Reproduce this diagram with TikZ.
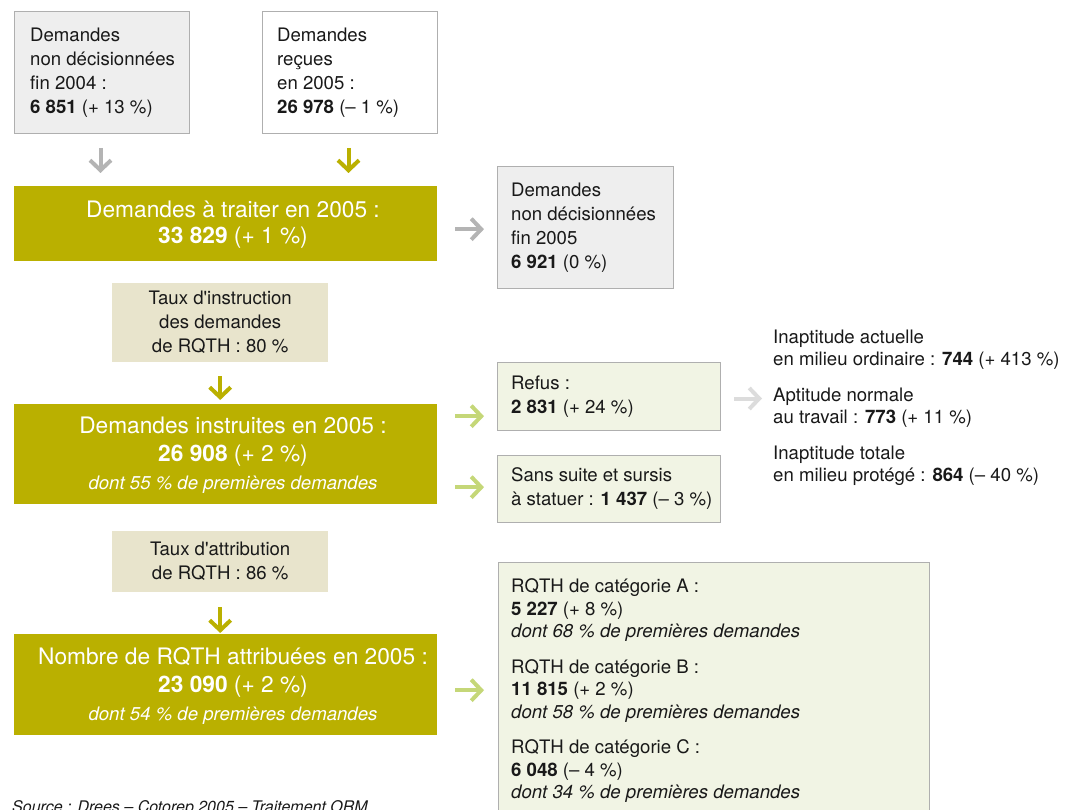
\documentclass[tikz,border=0pt]{standalone}
\usepackage{fontspec}
\setmainfont{TeX Gyre Heros}
\usetikzlibrary{arrows.meta}
\definecolor{oliveC}{RGB}{186,176,0}
\definecolor{beigeC}{RGB}{232,228,204}
\definecolor{lgreenC}{RGB}{241,244,228}
\definecolor{greenA}{RGB}{197,215,120}
\definecolor{grayA}{RGB}{180,180,180}
\definecolor{lgrayA}{RGB}{220,220,220}
\definecolor{borderC}{RGB}{175,175,175}
\definecolor{grayF}{RGB}{238,238,238}
\definecolor{txtC}{RGB}{25,25,25}
\begin{document}
\begin{tikzpicture}[x=1pt,y=-1pt,
  boxbase/.style={draw=borderC, line width=1pt, anchor=north west, inner sep=0pt},
  graybox/.style={boxbase, fill=grayF},
  whitebox/.style={boxbase, fill=white},
  greenbox/.style={boxbase, fill=lgreenC},
  tauxbox/.style={fill=beigeC, anchor=north west, inner sep=0pt},
  bigbox/.style={fill=oliveC, anchor=north west, inner sep=0pt},
  txtL/.style={inner sep=0pt, anchor=west, align=left, text=txtC, font=\fontsize{18.6}{24}\selectfont},
  txtC/.style={inner sep=0pt, align=center, text=txtC, font=\fontsize{18.6}{24}\selectfont},
  bigtxt/.style={inner sep=0pt, align=center, text=white, font=\fontsize{22.7}{28}\selectfont},
  arr/.style={line width=4pt, -{Straight Barb[length=10pt,width=21pt]}},
  arrGray/.style={arr, draw=grayA},
  arrLGray/.style={arr, draw=lgrayA},
  arrOlive/.style={arr, draw=oliveC},
  arrGreen/.style={arr, draw=greenA}]
\useasboundingbox (0,0) rectangle (1071,810);
\clip (0,0) rectangle (1071,810);

% top boxes
\node[graybox, minimum width=175, minimum height=122] (b1) at (14,11) {};
\node[txtL] (b1t) at ([xshift=16]b1.west) {Demandes\\non décisionnées\\fin 2004 :\\\textbf{6 851} (+ 13 \%)};
\node[whitebox, minimum width=175, minimum height=122] (b2) at (262,11) {};
\node[txtL] (b2t) at ([xshift=15]b2.west) {Demandes\\reçues\\en 2005 :\\\textbf{26 978} (– 1 \%)};

% big box 1
\node[bigbox, minimum width=423, minimum height=75] (big1) at (14,186) {};
\node[bigtxt, font=\fontsize{22.7}{26}\selectfont] (big1t) at (233,225) {Demandes à traiter en 2005 :\\\textbf{33 829} (+ 1 \%)};

% box 3
\node[graybox, minimum width=176, minimum height=122] (b3) at (497,166) {};
\node[txtL] (b3t) at ([xshift=14]b3.west) {Demandes\\non décisionnées\\fin 2005\\\textbf{6 921} (0 \%)};

% taux 1
\node[tauxbox, minimum width=216, minimum height=79] (t1) at (112,283) {};
\node[txtC] (t1t) at (t1.center) {Taux d\textquotesingle instruction\\des demandes\\de RQTH : 80 \%};

% big box 2
\node[bigbox, minimum width=423, minimum height=100] (big2) at (14,404) {};
\node[bigtxt] (big2t) at (233,455) {Demandes instruites en 2005 :\\\textbf{26 908} (+ 2 \%)\\{\fontsize{18.6}{28}\selectfont\itshape dont 55 \% de premières demandes}};

% refus / sans suite
\node[greenbox, minimum width=223, minimum height=68] (refus) at (497,362) {};
\node[txtL] (refust) at ([xshift=14]refus.west) {Refus :\\\textbf{2 831} (+ 24 \%)};
\node[greenbox, minimum width=223, minimum height=67] (sans) at (497,455) {};
\node[txtL] (sanst) at ([xshift=14]sans.west) {Sans suite et sursis\\à statuer : \textbf{1 437} (– 3 \%)};

% right text
\node[txtL, font=\fontsize{18.6}{22.5}\selectfont] (rtext) at (773,407.5) {Inaptitude actuelle\\en milieu ordinaire : \textbf{744} (+ 413 \%)\\[13pt]Aptitude normale\\au travail : \textbf{773} (+ 11 \%)\\[13pt]Inaptitude totale\\en milieu protégé : \textbf{864} (– 40 \%)};

% taux 2
\node[tauxbox, minimum width=216, minimum height=61] (t2) at (112,531) {};
\node[txtC] (t2t) at (t2.center) {Taux d\textquotesingle attribution\\de RQTH : 86 \%};

% big box 3
\node[bigbox, minimum width=423, minimum height=101] (big3) at (14,634) {};
\node[bigtxt] (big3t) at (233,686) {Nombre de RQTH attribuées en 2005 :\\\textbf{23 090} (+ 2 \%)\\{\fontsize{18.6}{28}\selectfont\itshape dont 54 \% de premières demandes}};

% RQTH categories
\node[greenbox, minimum width=431, minimum height=270] (rq) at (498,562) {};
\node[txtL, anchor=north west, font=\fontsize{18.6}{22.5}\selectfont] (rqt) at (511,578.5) {RQTH de catégorie A :\\\textbf{5 227} (+ 8 \%)\\\textit{dont 68 \% de premières demandes}\\[13pt]RQTH de catégorie B :\\\textbf{11 815} (+ 2 \%)\\\textit{dont 58 \% de premières demandes}\\[13pt]RQTH de catégorie C :\\\textbf{6 048} (– 4 \%)\\\textit{dont 34 \% de premières demandes}};

% source
\node[inner sep=0pt, anchor=base west, text=txtC, font=\fontsize{16}{18}\selectfont\itshape] (src) at (12,812) {Source : Drees – Cotorep 2005 – Traitement ORM};

% arrows
\draw[arrGray, shorten <=14pt, shorten >=13pt] ([xshift=-1.5pt]b1.south) -- ([xshift=-1.5pt]b1.south |- big1.north);
\draw[arrOlive, shorten <=14pt, shorten >=13pt] ([xshift=-1.5pt]b2.south) -- ([xshift=-1.5pt]b2.south |- big1.north);
\draw[arrGray, shorten <=18pt, shorten >=13pt] ([yshift=-5.5pt]big1.east) -- ([yshift=-5.5pt]big1.east -| b3.west);
\draw[arrOlive, shorten <=14pt, shorten >=4pt] (t1.south) -- (t1.south |- big2.north);
\draw[arrGreen, shorten <=18pt, shorten >=13pt] ([yshift=38pt]big2.east) -- ([yshift=38pt]big2.east -| refus.west);
\draw[arrGreen, shorten <=18pt, shorten >=13pt] ([yshift=-33pt]big2.east) -- ([yshift=-33pt]big2.east -| sans.west);
\draw[arrLGray, shorten <=13pt, shorten >=11pt] ([yshift=-2pt]refus.east) -- ([yshift=-2pt]refus.east -| rtext.west);
\draw[arrOlive, shorten <=15pt, shorten >=1pt] (t2.south) -- (t2.south |- big3.north);
\draw[arrGreen, shorten <=18pt, shorten >=14pt] ([yshift=-5.5pt]big3.east) -- ([yshift=-5.5pt]big3.east -| rq.west);
\end{tikzpicture}
\end{document}
